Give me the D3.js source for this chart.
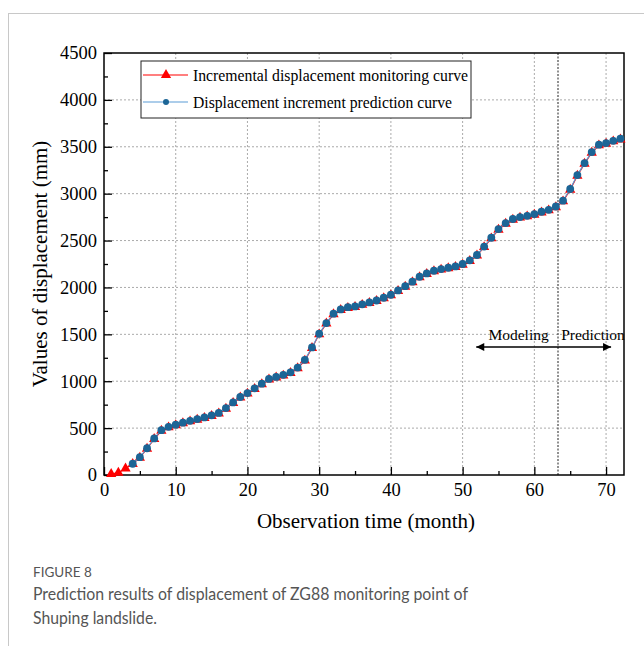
<!DOCTYPE html>
<html>
<head>
<meta charset="utf-8">
<script src="https://cdn.jsdelivr.net/npm/d3@7"></script>
<style>
body { margin: 0; background: #fff; }
svg text { font-family: "Liberation Serif", "Times New Roman", serif; }
svg text.cap { font-family: Lato, "Open Sans", sans-serif; fill: #555; }
</style>
</head>
<body>
<div id="chart"></div>
<script>
// monitoring curve, months 1..72
var months = d3.range(1, 73);
var monitored = [10, 25, 70, 117, 185, 280, 384, 472, 508, 530,
  552, 572, 590, 608, 630, 655, 707, 768, 826, 868,
  918, 968, 1018, 1040, 1060, 1088, 1138, 1220, 1355, 1500,
  1615, 1714, 1760, 1780, 1792, 1814, 1835, 1856, 1885, 1917,
  1962, 2008, 2055, 2108, 2144, 2172, 2190, 2205, 2219, 2243,
  2282, 2340, 2430, 2523, 2615, 2680, 2722, 2745, 2758, 2776,
  2800, 2822, 2856, 2918, 3042, 3192, 3320, 3436, 3515, 3533,
  3558, 3578];
// prediction curve, months 4..72
var predMonths = d3.range(4, 73);
var predicted = [120, 190, 285, 390, 478, 514, 536,
  558, 578, 596, 614, 636, 662, 714, 774, 832, 874,
  924, 974, 1024, 1046, 1068, 1095, 1146, 1228, 1360, 1506,
  1620, 1720, 1766, 1790, 1798, 1820, 1840, 1861, 1890, 1922,
  1968, 2014, 2061, 2114, 2150, 2178, 2196, 2210, 2224, 2250,
  2289, 2346, 2436, 2530, 2622, 2686, 2730, 2750, 2764, 2782,
  2807, 2828, 2863, 2925, 3050, 3198, 3326, 3444, 3522, 3540,
  3564, 3586];
var xTicks = [0, 10, 20, 30, 40, 50, 60, 70];
var yTicks = [0, 500, 1000, 1500, 2000, 2500, 3000, 3500, 4000, 4500];
var splitMonth = 63.3;

var W = 644, H = 646;
var svg = d3.select("#chart").append("svg")
  .attr("width", W).attr("height", H);

// card border
svg.append("line").attr("x1", 8).attr("x2", W).attr("y1", 13.5).attr("y2", 13.5)
  .attr("stroke", "#c8c8c8");
svg.append("line").attr("x1", 8.5).attr("x2", 8.5).attr("y1", 13).attr("y2", H)
  .attr("stroke", "#c8c8c8");

var L = 104, R = 624, T = 53, B = 475;
var x = d3.scaleLinear().domain([0, 72.5]).range([L, R]);
var y = d3.scaleLinear().domain([0, 4500]).range([B, T]);

// grid
var g = svg.append("g");
g.selectAll(".gx").data(xTicks.slice(1)).enter().append("line")
  .attr("x1", d => x(d)).attr("x2", d => x(d)).attr("y1", T).attr("y2", B)
  .attr("stroke", "#aaa").attr("stroke-dasharray", "2,2");
g.selectAll(".gy").data(yTicks.slice(1, -1)).enter().append("line")
  .attr("x1", L).attr("x2", R).attr("y1", d => y(d)).attr("y2", d => y(d))
  .attr("stroke", "#aaa").attr("stroke-dasharray", "2,2");
// modeling / prediction split
g.append("line").attr("x1", x(splitMonth)).attr("x2", x(splitMonth))
  .attr("y1", T).attr("y2", B).attr("stroke", "#222").attr("stroke-dasharray", "2,1.5");

// axes (ticks inward)
var xAxis = d3.axisBottom(x).tickValues(d3.range(0, 73, 5)).tickSize(-8)
  .tickFormat(d => d % 10 == 0 ? d : "");
var gx = svg.append("g").attr("transform", "translate(0," + B + ")").call(xAxis);
gx.selectAll(".tick line").attr("y2", d => d % 10 == 0 ? -8 : -4).attr("stroke-width", 1.3);
gx.selectAll("text").attr("y", 8).attr("font-size", 18.5).attr("fill", "#000");
gx.select(".domain").remove();

var yAxis = d3.axisLeft(y).tickValues(d3.range(0, 4501, 250)).tickSize(-8)
  .tickFormat(d => d % 500 == 0 ? d : "");
var gy = svg.append("g").attr("transform", "translate(" + L + ",0)").call(yAxis);
gy.selectAll(".tick line").attr("x2", d => d % 500 == 0 ? 8 : 4).attr("stroke-width", 1.3);
gy.selectAll("text").attr("x", -7).attr("font-size", 18.5).attr("fill", "#000");
gy.select(".domain").remove();

svg.append("rect").attr("x", L).attr("y", T).attr("width", R - L).attr("height", B - T)
  .attr("fill", "none").attr("stroke", "#000").attr("stroke-width", 1.5);

// series
var red = "#ff0000", blueLine = "#5b9bd5", blueDot = "#1c6596";
var tri = d3.symbol().type(d3.symbolTriangle).size(46);
var line = d3.line().x(d => x(d[0])).y(d => y(d[1]));
var mData = months.map((m, i) => [m, monitored[i]]);
var pData = predMonths.map((m, i) => [m, predicted[i]]);

svg.append("path").datum(mData).attr("d", line)
  .attr("fill", "none").attr("stroke", red).attr("stroke-width", 1.2);
svg.selectAll(".tri").data(mData).enter().append("path")
  .attr("d", tri).attr("fill", red)
  .attr("transform", d => "translate(" + x(d[0]) + "," + y(d[1]) + ")");
svg.append("path").datum(pData).attr("d", line)
  .attr("fill", "none").attr("stroke", blueLine).attr("stroke-width", 1.2);
svg.selectAll(".dot").data(pData).enter().append("circle")
  .attr("cx", d => x(d[0])).attr("cy", d => y(d[1])).attr("r", 3.9).attr("fill", blueDot);

// legend
var lg = svg.append("g");
lg.append("rect").attr("x", 141).attr("y", 61).attr("width", 330).attr("height", 57)
  .attr("fill", "#fff").attr("stroke", "#222").attr("stroke-width", 1);
var items = [["Incremental displacement monitoring curve", red, "tri", 275],
             ["Displacement increment prediction curve", blueLine, "dot", 259]];
items.forEach(function(it, i){
  var yy = 75 + i * 27;
  lg.append("line").attr("x1", 143).attr("x2", 188).attr("y1", yy).attr("y2", yy)
    .attr("stroke", it[1]).attr("stroke-width", 1.2);
  if(it[2] == "tri")
    lg.append("path").attr("d", tri).attr("fill", red).attr("transform", "translate(166," + yy + ")");
  else
    lg.append("circle").attr("cx", 166).attr("cy", yy).attr("r", 3).attr("fill", blueDot);
  lg.append("text").attr("x", 193).attr("y", yy + 5.5).attr("font-size", 17)
    .attr("textLength", it[3]).attr("lengthAdjust", "spacingAndGlyphs").text(it[0]);
});

// modeling / prediction arrow
svg.append("defs").append("marker").attr("id", "ah")
  .attr("viewBox", "0 0 10 10").attr("refX", 10).attr("refY", 5)
  .attr("markerWidth", 10).attr("markerHeight", 8).attr("orient", "auto-start-reverse")
  .attr("markerUnits", "userSpaceOnUse")
  .append("path").attr("d", "M0,0L10,5L0,10z").attr("fill", "#000");
svg.append("line").attr("x1", x(51.9)).attr("x2", x(70.7)).attr("y1", 347).attr("y2", 347)
  .attr("stroke", "#000").attr("stroke-width", 1.5)
  .attr("marker-start", "url(#ah)").attr("marker-end", "url(#ah)");
svg.append("text").attr("x", x(57.8)).attr("y", 340).attr("text-anchor", "middle")
  .attr("font-size", 15.5).text("Modeling");
svg.append("text").attr("x", 593).attr("y", 340).attr("text-anchor", "middle")
  .attr("font-size", 15.5).text("Prediction");

// axis titles
svg.append("text").attr("x", 366).attr("y", 528).attr("text-anchor", "middle")
  .attr("font-size", 21).text("Observation time (month)");
svg.append("text").attr("transform", "translate(47,264) rotate(-90)").attr("text-anchor", "middle")
  .attr("font-size", 21).text("Values of displacement (mm)");

// caption
svg.append("text").attr("class", "cap").attr("x", 33).attr("y", 577)
  .attr("font-size", 13.5).text("FIGURE 8");
svg.append("text").attr("class", "cap").attr("x", 33).attr("y", 600)
  .attr("font-size", 17.5).attr("textLength", 435).attr("lengthAdjust", "spacingAndGlyphs")
  .text("Prediction results of displacement of ZG88 monitoring point of");
svg.append("text").attr("class", "cap").attr("x", 33).attr("y", 624)
  .attr("font-size", 17.5).attr("textLength", 124).attr("lengthAdjust", "spacingAndGlyphs")
  .text("Shuping landslide.");
</script>
</body>
</html>
